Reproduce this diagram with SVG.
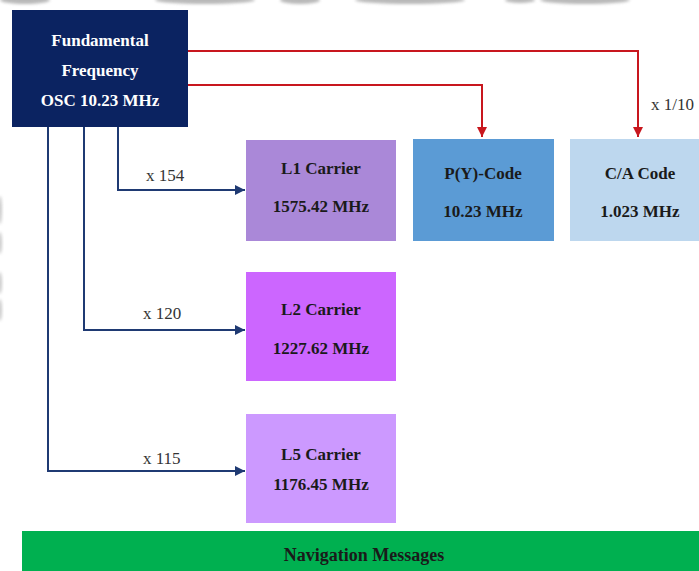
<svg xmlns="http://www.w3.org/2000/svg" width="699" height="571" viewBox="0 0 699 571">
  <defs>
    <style>
      text { font-family: "Liberation Serif", "DejaVu Serif", serif; }
      .lbl { font-weight: bold; font-size: 17px; fill: #1a1a1a; text-anchor: middle; }
      .osc { font-weight: bold; font-size: 17px; fill: #ffffff; text-anchor: middle; }
      .mul { font-size: 17px; fill: #333333; }
      .red { fill: none; stroke: #c8171e; stroke-width: 2; }
      .blue { fill: none; stroke: #1f3a73; stroke-width: 2; }
    </style>
    <marker id="arrRed" viewBox="0 0 10 10" refX="10" refY="5" markerWidth="5" markerHeight="5" orient="auto" markerUnits="strokeWidth">
      <path d="M0,0 L10,5 L0,10 z" fill="#c8171e"/>
    </marker>
    <marker id="arrBlue" viewBox="0 0 10 10" refX="10" refY="5" markerWidth="5" markerHeight="5" orient="auto" markerUnits="strokeWidth">
      <path d="M0,0 L10,5 L0,10 z" fill="#1f3a73"/>
    </marker>
    <filter id="soft" x="-50%" y="-50%" width="200%" height="200%">
      <feGaussianBlur stdDeviation="1.5"/>
    </filter>
  </defs>

  <rect width="699" height="571" fill="#ffffff"/>

  <!-- faint background artwork along the top and left edges -->
  <g fill="#8a8a8a" opacity="0.6" filter="url(#soft)">
    <ellipse cx="25" cy="0" rx="25" ry="4"/>
    <ellipse cx="205" cy="0" rx="50" ry="4"/>
    <ellipse cx="300" cy="0" rx="20" ry="4"/>
    <ellipse cx="410" cy="0" rx="55" ry="4"/>
    <ellipse cx="520" cy="0" rx="15" ry="3"/>
    <ellipse cx="585" cy="0" rx="45" ry="4"/>
  </g>
  <g fill="#8a8a8a" opacity="0.45" filter="url(#soft)">
    <ellipse cx="0" cy="210" rx="2" ry="14"/>
    <ellipse cx="0" cy="243" rx="2" ry="11"/>
    <ellipse cx="0" cy="283" rx="2" ry="11"/>
    <ellipse cx="0" cy="310" rx="2" ry="11"/>
  </g>

  <!-- connectors -->
  <g id="connectors">
    <polyline class="red" points="188,51 638,51 638,137" marker-end="url(#arrRed)"/>
    <polyline class="red" points="188,85 482,85 482,137" marker-end="url(#arrRed)"/>
    <polyline class="blue" points="118,127 118,190 245,190" marker-end="url(#arrBlue)"/>
    <polyline class="blue" points="84,127 84,330 245,330" marker-end="url(#arrBlue)"/>
    <polyline class="blue" points="48,127 48,471 245,471" marker-end="url(#arrBlue)"/>
    <text class="mul" x="146" y="181">x 154</text>
    <text class="mul" x="143" y="319">x 120</text>
    <text class="mul" x="143" y="464">x 115</text>
    <text class="mul" x="651" y="110">x 1/10</text>
  </g>

  <g id="oscillator">
    <rect x="12" y="10" width="176" height="117" fill="#0b2361"/>
    <text class="osc" x="100" y="46">Fundamental</text>
    <text class="osc" x="100" y="76">Frequency</text>
    <text class="osc" x="100" y="106">OSC 10.23 MHz</text>
  </g>

  <g id="l1-carrier">
    <rect x="246" y="140" width="150" height="101" fill="#aa88d8"/>
    <text class="lbl" x="321" y="174">L1 Carrier</text>
    <text class="lbl" x="321" y="212">1575.42 MHz</text>
  </g>

  <g id="py-code">
    <rect x="413" y="139" width="141" height="102" fill="#5b9bd5"/>
    <text class="lbl" x="483" y="179">P(Y)-Code</text>
    <text class="lbl" x="483" y="217">10.23 MHz</text>
  </g>

  <g id="ca-code">
    <rect x="570" y="139" width="129" height="102" fill="#bdd7ee"/>
    <text class="lbl" x="640" y="179">C/A Code</text>
    <text class="lbl" x="640" y="217">1.023 MHz</text>
  </g>

  <g id="l2-carrier">
    <rect x="246" y="272" width="150" height="109" fill="#cc66ff"/>
    <text class="lbl" x="321" y="315">L2 Carrier</text>
    <text class="lbl" x="321" y="354">1227.62 MHz</text>
  </g>

  <g id="l5-carrier">
    <rect x="246" y="414" width="150" height="109" fill="#cc99ff"/>
    <text class="lbl" x="321" y="460">L5 Carrier</text>
    <text class="lbl" x="321" y="490">1176.45 MHz</text>
  </g>

  <g id="navigation-messages">
    <rect x="22" y="531" width="677" height="40" fill="#00b050"/>
    <text class="lbl" x="364" y="561" style="font-size:18px">Navigation Messages</text>
  </g>
</svg>
